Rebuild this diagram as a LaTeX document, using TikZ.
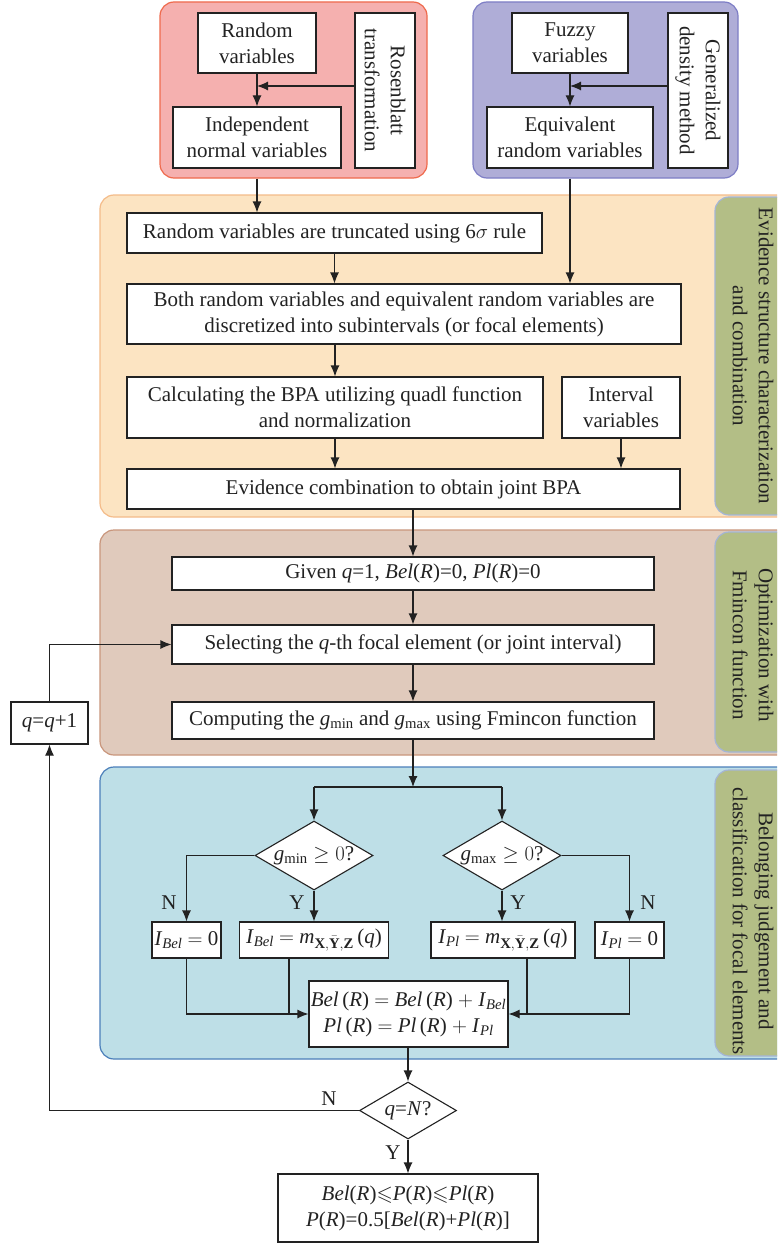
\documentclass[tikz,border=0pt]{standalone}
\usepackage{amsmath,amssymb}
\usepackage{fontspec}
\setmainfont{Liberation Serif}
\usetikzlibrary{arrows.meta,shapes.geometric,calc}
\definecolor{redF}{HTML}{F5B0AF}
\definecolor{redD}{HTML}{EF6A4D}
\definecolor{bluF}{HTML}{AFADD7}
\definecolor{bluD}{HTML}{7E7EC6}
\definecolor{orF}{HTML}{FCE4C2}
\definecolor{orD}{HTML}{F4BC8A}
\definecolor{brF}{HTML}{E0CABC}
\definecolor{brD}{HTML}{C9967C}
\definecolor{cyF}{HTML}{BEDFE7}
\definecolor{cyD}{HTML}{4B7FBA}
\definecolor{grF}{HTML}{B3BE86}
\definecolor{grD}{HTML}{A4B5D6}
\definecolor{ink}{HTML}{222222}
\newcommand\myfs{\fontsize{21}{26}\selectfont}
\begin{document}
\begin{tikzpicture}[x=1pt,y=-1pt,
  bx/.style={draw=ink, line width=1.1pt, fill=white, inner sep=0pt, align=center, font=\myfs, text=ink},
  ar/.style={-{Latex[length=11pt,width=9pt]}, line width=1.1pt, draw=ink},
  ln/.style={line width=1.1pt, draw=ink},
  panel/.style={rounded corners=14pt, line width=1.2pt, inner sep=0pt},
  side/.style={rotate=-90, align=center, font=\myfs, text=ink, inner sep=0pt},
  dia/.style={diamond, draw=ink, line width=1.1pt, fill=white, inner sep=0pt},
  yn/.style={font=\myfs, text=ink, inner sep=0pt}
]
\clip (0,0) rectangle (777,1244);
\fill[white] (0,0) rectangle (777,1244);

% panels
\node[panel, fill=redF, draw=redD, minimum width=267pt, minimum height=176pt] (redp) at (293.5,90) {};
\node[panel, fill=bluF, draw=bluD, minimum width=265pt, minimum height=176pt] (blup) at (605.5,90) {};
\node[panel, fill=orF, draw=orD, minimum width=720pt, minimum height=322pt] (orp) at (460,356) {};
\node[panel, fill=grF, draw=grD, minimum width=105pt, minimum height=318pt] (g1) at (767.5,356) {};
\node[side] (s1) at (753,356) {Evidence structure characterization\\and combination};
\node[panel, fill=brF, draw=brD, minimum width=720pt, minimum height=225pt] (brp) at (460,642.5) {};
\node[panel, fill=grF, draw=grD, minimum width=105pt, minimum height=220pt] (g2) at (767.5,642) {};
\node[side] (s2) at (753,645) {Optimization with\\Fmincon function};
\node[panel, fill=cyF, draw=cyD, minimum width=720pt, minimum height=292pt] (cyp) at (460,913) {};
\node[panel, fill=grF, draw=grD, minimum width=105pt, minimum height=286pt] (g3) at (767.5,913) {};
\node[side] (s3) at (753,921) {Belonging judgement and\\classification for focal elements};

% top boxes
\node[bx, minimum width=118pt, minimum height=60pt] (rv) at (257,43) {Random\\variables};
\node[bx, minimum width=168pt, minimum height=61pt] (ind) at (257,137.5) {Independent\\normal variables};
\node[bx, minimum width=60pt, minimum height=155pt] (ros) at (385,90.5) {};
\node[side] (rost) at (ros.center) {Rosenblatt\\transformation};
\node[bx, minimum width=116pt, minimum height=60pt] (fz) at (570,43) {Fuzzy\\variables};
\node[bx, minimum width=166pt, minimum height=61pt] (eq) at (570,137.5) {Equivalent\\random variables};
\node[bx, minimum width=60pt, minimum height=155pt] (gen) at (698,90.5) {};
\node[side] (gent) at (gen.center) {Generalized\\density method};
\coordinate (m1) at (257,86);
\coordinate (m2) at (570,86);

% orange boxes
\node[bx, minimum width=415pt, minimum height=40pt] (trunc) at (334.5,233) {Random variables are truncated using 6$\sigma$ rule};
\node[bx, minimum width=554pt, minimum height=60pt] (both) at (404,314) {Both random variables and equivalent random variables are\\discretized into subintervals (or focal elements)};
\node[bx, minimum width=416pt, minimum height=61pt] (calc) at (335,407.5) {Calculating the BPA utilizing quadl function\\and normalization};
\node[bx, minimum width=118pt, minimum height=61pt] (intv) at (621,407.5) {Interval\\variables};
\node[bx, minimum width=553pt, minimum height=40pt] (evid) at (403.5,489) {Evidence combination to obtain joint BPA};

% brown boxes
\node[bx, minimum width=482pt, minimum height=33pt] (given) at (413,573.5) {Given \textit{q}=1, \textit{Bel}(\textit{R})=0, \textit{Pl}(\textit{R})=0};
\node[bx, minimum width=482pt, minimum height=39pt] (sel) at (413,644.5) {Selecting the \textit{q}-th focal element (or joint interval)};
\node[bx, minimum width=482pt, minimum height=37pt] (comp) at (413,720.5) {Computing the \textit{g}$_{\text{min}}$ and \textit{g}$_{\text{max}}$ using Fmincon function};
\node[bx, minimum width=77pt, minimum height=42pt] (qq) at (49.5,723) {\textit{q}=\textit{q}+1};

% blue section
\coordinate (sp) at (413,787);
\node[dia, minimum width=118pt, minimum height=69pt, label={[font=\myfs, text=ink]center:\textit{g}$_{\text{min}}\geq0$?}] (d1) at (314,855.5) {};
\node[dia, minimum width=118pt, minimum height=69pt, label={[font=\myfs, text=ink]center:\textit{g}$_{\text{max}}\geq0$?}] (d2) at (502,855.5) {};
\node[bx, minimum width=69pt, minimum height=36pt] (ib0) at (186.5,940) {\textit{I}$_{\textit{Bel}}$ $=$ 0};
\node[bx, minimum width=149pt, minimum height=36pt] (ibm) at (314,940) {\textit{I}$_{\textit{Bel}}$ $=$ \textit{m}$_{\mathbf{X},\bar{\mathbf{Y}},\mathbf{Z}}$\,(\textit{q})};
\node[bx, minimum width=144pt, minimum height=36pt] (ipm) at (503,940) {\textit{I}$_{\textit{Pl}}$ $=$ \textit{m}$_{\mathbf{X},\bar{\mathbf{Y}},\mathbf{Z}}$\,(\textit{q})};
\node[bx, minimum width=69pt, minimum height=36pt] (ip0) at (629.5,940) {\textit{I}$_{\textit{Pl}}$ $=$ 0};
\node[bx, minimum width=199pt, minimum height=66pt] (bel) at (408.5,1014) {\textit{Bel}\,(\textit{R}) $=$ \textit{Bel}\,(\textit{R}) $+$ \textit{I}$_{\textit{Bel}}$\\\textit{Pl}\,(\textit{R}) $=$ \textit{Pl}\,(\textit{R}) $+$ \textit{I}$_{\textit{Pl}}$};
\coordinate (j1) at (289,1014);
\coordinate (j2) at (527,1014);

% bottom
\node[dia, minimum width=97pt, minimum height=57pt, label={[font=\myfs, text=ink]center:\textit{q}=\textit{N}?}] (qn) at (408,1110.5) {};
\node[bx, minimum width=260pt, minimum height=68pt] (fin) at (408,1208) {\textit{Bel}(\textit{R})$\leqslant$\textit{P}(\textit{R})$\leqslant$\textit{Pl}(\textit{R})\\\textit{P}(\textit{R})=0.5[\textit{Bel}(\textit{R})+\textit{Pl}(\textit{R})]};

% connectors top
\draw[ar] (rv) -- (ind);
\draw[ar] (ros.west |- m1) -- (m1);
\draw[ar] (fz) -- (eq);
\draw[ar] (gen.west |- m2) -- (m2);
\draw[ar] (ind |- redp.south) -- (ind |- trunc.north);
\draw[ar] (eq |- blup.south) -- (eq |- both.north);
% orange
\draw[ar] (trunc) -- (trunc |- both.north);
\draw[ar] (calc.north |- both.south) -- (calc.north);
\draw[ar] (calc) -- (calc |- evid.north);
\draw[ar] (intv) -- (intv |- evid.north);
\draw[ar] (given.north |- evid.south) -- (given.north);
% brown
\draw[ar] (given) -- (sel);
\draw[ar] (sel) -- (comp);
\draw[ar] (qq.north) |- (sel.west);
% blue
\draw[ar] (comp) -- (sp);
\draw[ln] (d1 |- sp) -- (d2 |- sp);
\draw[ar] (d1 |- sp) -- (d1.north);
\draw[ar] (d2 |- sp) -- (d2.north);
\draw[ar] (d1.west) -| (ib0.north);
\draw[ar] (d1.south) -- (ibm.north);
\draw[ar] (d2.south) -- (d2.south |- ipm.north);
\draw[ar] (d2.east) -| (ip0.north);
\node[yn] (n1) at (169,903) {N};
\node[yn] (y1) at (297,903) {Y};
\node[yn] (y2) at (518,903) {Y};
\node[yn] (n2) at (648,903) {N};
\draw[ar] (ib0.south) |- (bel.west);
\draw[ln] (ibm.south -| j1) -- (j1);
\draw[ar] (ip0.south) |- (bel.east);
\draw[ln] (ipm.south -| j2) -- (j2);
% bottom
\draw[ar] (qn.north |- bel.south) -- (qn.north);
\draw[ar] (qn.west) -| (qq.south);
\draw[ar] (qn.south) -- (fin.north);
\node[yn] (n3) at (329,1099) {N};
\node[yn] (y3) at (393,1153) {Y};
\end{tikzpicture}
\end{document}
